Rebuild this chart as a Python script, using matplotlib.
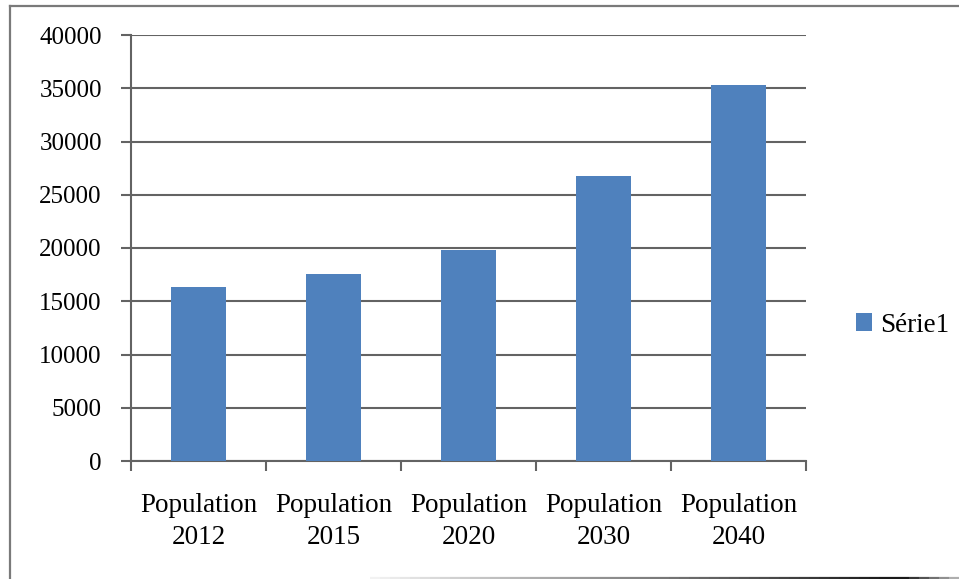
import matplotlib
matplotlib.use("Agg")
import matplotlib.pyplot as plt
from matplotlib.lines import Line2D
import numpy as np

categories = ["Population\n2012", "Population\n2015", "Population\n2020",
              "Population\n2030", "Population\n2040"]
values = [16300, 17600, 19800, 26750, 35300]
series_name = "Série1"
y_ticks = [0, 5000, 10000, 15000, 20000, 25000, 30000, 35000, 40000]

plt.rcParams["font.family"] = ["Liberation Serif", "DejaVu Serif"]

W, H = 959, 579
fig = plt.figure(figsize=(W / 100, H / 100), dpi=100)
ax = fig.add_axes([131 / W, 1 - 461 / H, 675 / W, 426 / H])

grid_col = "#636363"
bar_col = "#4f81bd"

x = np.arange(len(categories))
bars = ax.bar(x, values, width=0.41, color=bar_col, zorder=3, label=series_name)

ax.set_xlim(-0.5, len(categories) - 0.5)
ax.set_ylim(0, 40000)
ax.set_yticks(y_ticks)
ax.set_yticklabels([str(v) for v in y_ticks], fontsize=18)
ax.yaxis.grid(True, color=grid_col, linewidth=1.5, zorder=0)
ax.set_axisbelow(True)

# category labels centred under the bars, tick marks on the boundaries
ax.set_xticks(x)
ax.set_xticklabels(categories, fontsize=19.5, linespacing=1.35)
ax.tick_params(axis="x", which="major", length=0, pad=23)
ax.set_xticks(np.arange(-0.5, len(categories)), minor=True)
ax.tick_params(axis="x", which="minor", length=7, width=1.5, color=grid_col)
ax.tick_params(axis="y", length=7, width=1.5, color=grid_col, pad=14)

for side in ("top", "right"):
    ax.spines[side].set_visible(False)
for side in ("left", "bottom"):
    ax.spines[side].set_color(grid_col)
    ax.spines[side].set_linewidth(1.5)

leg = fig.legend(handles=[bars], labels=[series_name], loc="center left",
                 bbox_to_anchor=(856 / W, 1 - 325 / H), frameon=False,
                 fontsize=19.5, handlelength=0.6, handleheight=0.6,
                 handletextpad=0.3, borderaxespad=0, borderpad=0)

# chart area frame: left and top edges, shaded bottom edge
frame_col = "#7a7a7a"
fig.add_artist(Line2D([10 / W, 10 / W], [0, 1 - 6 / H], transform=fig.transFigure,
                      color=frame_col, linewidth=1.6))
fig.add_artist(Line2D([10 / W, 1], [1 - 6 / H, 1 - 6 / H], transform=fig.transFigure,
                      color=frame_col, linewidth=1.6))
xs = np.linspace(370, 959, 60)
for a, b in zip(xs[:-1], xs[1:]):
    t = (a - 370) / (880 - 370)
    if a > 900:
        shade = 0.1 + (a - 900) / 59 * 0.7
    else:
        shade = max(0.1, 0.95 - 0.85 * min(t, 1))
    fig.add_artist(Line2D([a / W, b / W], [1 - 577.5 / H] * 2, transform=fig.transFigure,
                          color=str(shade), linewidth=1.6, solid_capstyle="butt"))

fig.savefig("out.png", dpi=100)
